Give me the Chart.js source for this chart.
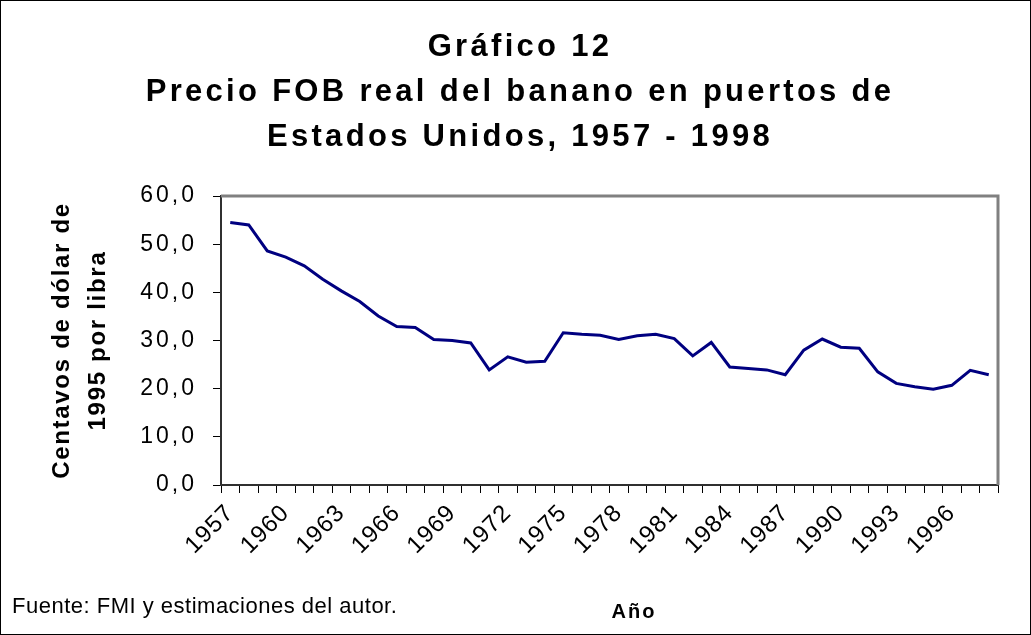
<!DOCTYPE html>
<html>
<head>
<meta charset="utf-8">
<script src="https://cdn.jsdelivr.net/npm/chart.js@4/dist/chart.umd.min.js"></script>
<style>
  html, body { margin: 0; padding: 0; background: #fff; }
  #wrap { width: 1031px; height: 635px; position: relative; }
</style>
</head>
<body>
<div id="wrap"><canvas id="myChart" width="1031" height="635"></canvas></div>
<script>
// years shown on the x axis
const years = [];
for (let y = 1957; y <= 1998; y++) years.push(String(y));

// real FOB price, cents of 1995 dollar per pound
const precio = [
  54.5, 54.0, 48.6, 47.3, 45.5, 42.7, 40.3, 38.1, 35.1, 32.9,
  32.7, 30.2, 30.0, 29.5, 23.9, 26.6, 25.5, 25.7, 31.6, 31.3,
  31.1, 30.2, 31.0, 31.3, 30.4, 26.8, 29.6, 24.5, 24.2, 23.9,
  22.9, 28.0, 30.3, 28.6, 28.4, 23.5, 21.1, 20.4, 19.9, 20.7,
  23.8, 22.9
];

const titleLines = ['Gráfico 12', 'Precio FOB real del banano en puertos de', 'Estados Unidos, 1957 - 1998'];
const yTitleLines = ['Centavos de dólar de', '1995 por libra'];
const xTitle = 'Año';
const fuente = 'Fuente: FMI y estimaciones del autor.';

const FONT = '"Liberation Sans", Arial, sans-serif';

// y tick labels are spaced wide, x tick labels (drawn later, z 1) less so
const spacingPlugin = {
  id: 'spacing',
  beforeDraw(chart) {
    chart.ctx.letterSpacing = '3px';
  },
  afterDatasetsDraw(chart) {
    chart.ctx.letterSpacing = '1px';
  }
};

// titles, footnote, frame
const extrasPlugin = {
  id: 'extras',
  afterDraw(chart) {
    const ctx = chart.ctx;
    const area = chart.chartArea;
    ctx.save();
    ctx.fillStyle = '#000';
    ctx.textAlign = 'center';
    ctx.textBaseline = 'middle';

    // main title
    ctx.letterSpacing = '3.3px';
    ctx.font = 'bold 31px ' + FONT;
    const ty = [47, 92, 137];
    titleLines.forEach((t, i) => ctx.fillText(t, 520, ty[i]));

    // y axis title
    ctx.letterSpacing = '1.7px';
    ctx.font = 'bold 24px ' + FONT;
    const yx = [62, 98];
    yTitleLines.forEach((t, i) => {
      ctx.save();
      ctx.translate(yx[i], (area.top + area.bottom) / 2);
      ctx.rotate(-Math.PI / 2);
      ctx.fillText(t, 0, 0);
      ctx.restore();
    });

    // x axis title
    ctx.letterSpacing = '2px';
    ctx.font = 'bold 20px ' + FONT;
    ctx.fillText(xTitle, 634, 612);

    // source note
    ctx.letterSpacing = '0.5px';
    ctx.font = '22px ' + FONT;
    ctx.textAlign = 'left';
    ctx.fillText(fuente, 12, 607);

    // plot frame, gray on top and right
    ctx.strokeStyle = '#808080';
    ctx.lineWidth = 3;
    ctx.beginPath();
    ctx.moveTo(area.left, area.top);
    ctx.lineTo(area.right, area.top);
    ctx.lineTo(area.right, area.bottom);
    ctx.stroke();

    // outer border
    ctx.strokeStyle = '#000';
    ctx.lineWidth = 1;
    ctx.strokeRect(0.5, 0.5, chart.width - 1, chart.height - 1);
    ctx.restore();
  }
};

function createChart() {
  const ctx = document.getElementById('myChart').getContext('2d');
  new Chart(ctx, {
    type: 'line',
    data: {
      labels: years,
      datasets: [{
        label: 'Precio',
        data: precio,
        borderColor: '#000080',
        borderWidth: 3,
        pointRadius: 0,
        tension: 0,
        fill: false
      }]
    },
    options: {
      responsive: false,
      animation: false,
      layout: { padding: { top: 196, right: 33, left: 0, bottom: 0 } },
      plugins: {
        legend: { display: false },
        title: { display: false },
        tooltip: { enabled: false }
      },
      scales: {
        x: {
          offset: true,
          afterFit: s => { s.height = 150; },
          grid: {
            offset: true,
            drawOnChartArea: false,
            tickLength: 8,
            color: '#000',
            tickColor: '#000',
            tickWidth: 1
          },
          border: { color: '#303030', width: 2 },
          ticks: {
            autoSkip: false,
            maxRotation: 45,
            minRotation: 45,
            padding: 6,
            z: 1,
            color: '#000',
            font: { family: FONT, size: 24 },
            callback: (v, i) => (i % 3 === 0 ? years[i] : '')
          }
        },
        y: {
          min: 0,
          max: 60,
          afterFit: s => { s.width = 221; },
          grid: {
            drawOnChartArea: false,
            tickLength: 8,
            color: '#000',
            tickColor: '#000'
          },
          border: { color: '#303030', width: 2 },
          ticks: {
            stepSize: 10,
            padding: 16,
            color: '#000',
            font: { family: FONT, size: 23 },
            callback: v => v.toFixed(1).replace('.', ',')
          }
        }
      }
    },
    plugins: [spacingPlugin, extrasPlugin]
  });
}

document.addEventListener('DOMContentLoaded', function() {
  createChart();
});
</script>
</body>
</html>
